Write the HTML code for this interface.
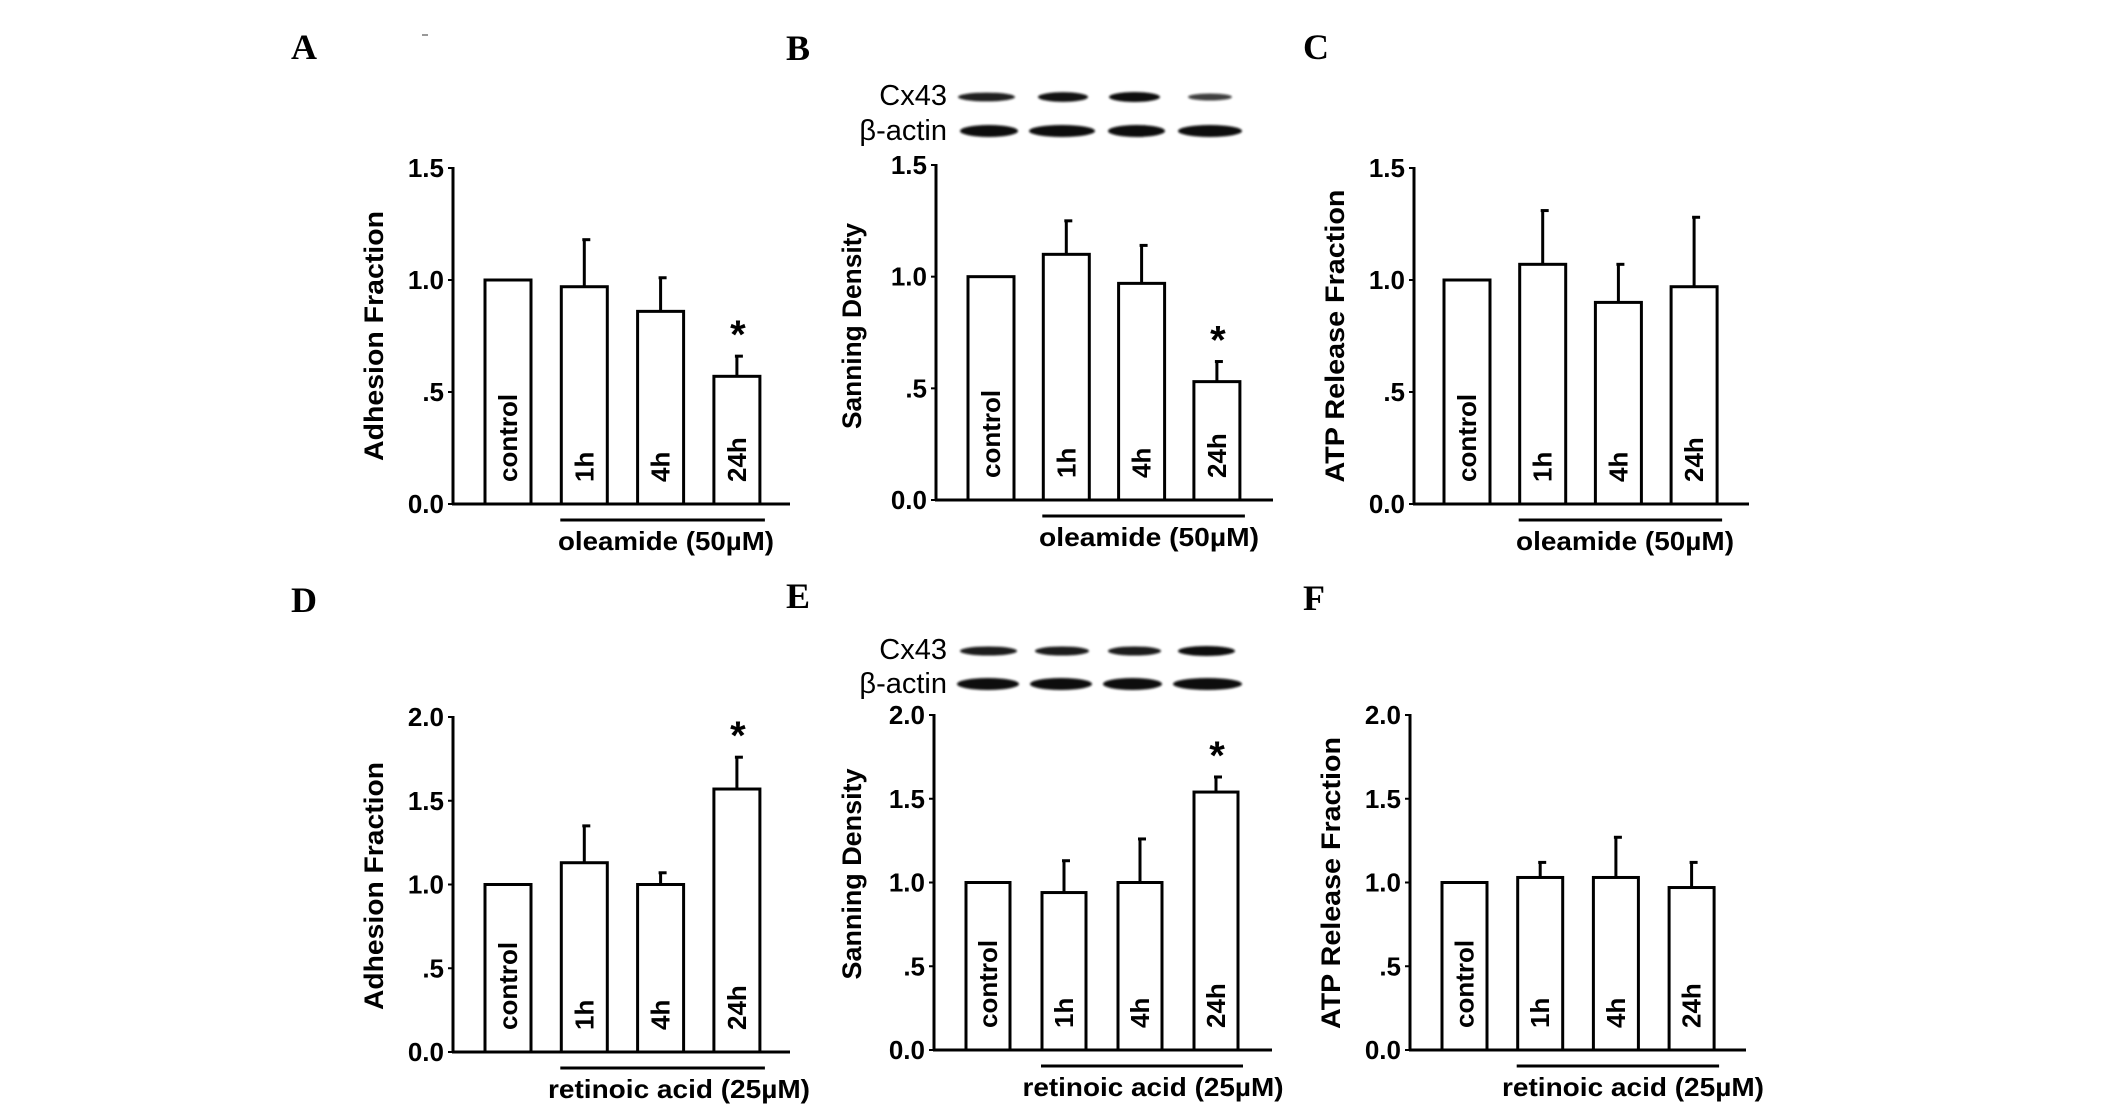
<!DOCTYPE html>
<html><head><meta charset="utf-8"><style>
html,body{margin:0;padding:0;background:#fff;}
svg{display:block;}
text{font-family:"Liberation Sans",sans-serif;font-weight:bold;fill:#000;}
.letter{font-family:"Liberation Serif",serif;font-size:36px;}
.tick{font-size:26px;}
.ytitle{font-size:27px;}
.barlab{font-size:26px;}
.treat{font-size:26px;}
.blotlab{font-weight:normal;font-size:29px;}
</style></head><body>
<svg id="fig" width="2126" height="1111" viewBox="0 0 2126 1111" xmlns="http://www.w3.org/2000/svg">
<defs><filter id="blur" x="-10%" y="-100%" width="120%" height="300%"><feGaussianBlur stdDeviation="1"/></filter></defs>
</svg>
<script>
const categories = ["control","1h","4h","24h"];
const valsA = [1.00,0.97,0.86,0.57];
const semA  = [0,0.21,0.15,0.09];
const sigA  = [0,0,0,1];
const valsB = [1.00,1.10,0.97,0.53];
const semB  = [0,0.15,0.17,0.09];
const sigB  = [0,0,0,1];
const valsC = [1.00,1.07,0.90,0.97];
const semC  = [0,0.24,0.17,0.31];
const sigC  = [0,0,0,0];
const valsD = [1.00,1.13,1.00,1.57];
const semD  = [0,0.22,0.07,0.19];
const sigD  = [0,0,0,1];
const valsE = [1.00,0.94,1.00,1.54];
const semE  = [0,0.19,0.26,0.09];
const sigE  = [0,0,0,1];
const valsF = [1.00,1.03,1.03,0.97];
const semF  = [0,0.09,0.24,0.15];
const sigF  = [0,0,0,0];
const ticksTop = [0,0.5,1.0,1.5];
const tickLabelsTop = ["0.0",".5","1.0","1.5"];
const ticksBottom = [0,0.5,1.0,1.5,2.0];
const tickLabelsBottom = ["0.0",".5","1.0","1.5","2.0"];
const cx43TopIntensity = [0.8,0.95,1.0,0.5];
const cx43BottomIntensity = [0.85,0.85,0.85,1.0];

const NS="http://www.w3.org/2000/svg";
const svg=document.getElementById('fig');
function mk(tag,attrs,parent){const e=document.createElementNS(NS,tag);for(const k in attrs)e.setAttribute(k,attrs[k]);(parent||svg).appendChild(e);return e;}

function panel(p){
  const g=mk('g',{});
  
  
  const ymax=p.ticks[p.ticks.length-1];
  const y=v=>p.y0-(v/ymax)*(p.y0-p.yTop);
  const bx=i=>p.bar0+i*p.step;
  const L=mk('text',{x:p.lx,y:p.ly,'text-anchor':'middle',class:'letter'},g);L.textContent=p.id;
  
  
  const ya=mk('line',{x1:p.ax,y1:y(ymax)-1,x2:p.ax,y2:p.y0,stroke:'#000','stroke-width':3},g);
  
  
  const xa=mk('line',{x1:p.ax-1,y1:p.y0,x2:p.axEnd,y2:p.y0,stroke:'#000','stroke-width':3},g);
  
  
  p.ticks.forEach((t,i)=>{
    const tm=mk('line',{x1:p.ax-5,y1:y(t),x2:p.ax,y2:y(t),stroke:'#000','stroke-width':2},g);
    
    
    const tl=mk('text',{x:p.ax-9,y:y(t)+9,'text-anchor':'end',class:'tick'},g);tl.textContent=p.tickLabels[i];
    
    
  });
  const yt=mk('text',{x:0,y:0,'text-anchor':'middle',class:'ytitle',textLength:p.tLen,lengthAdjust:'spacingAndGlyphs',transform:`translate(${p.tx+10},${p.ty}) rotate(-90)`},g);
  yt.textContent=p.title;
  
  
  categories.forEach((c,i)=>{
    const v=p.vals[i],x=bx(i);
    if(p.sem[i]>0){
      const et=y(v+p.sem[i]);
      const el=mk('line',{x1:x+p.bw/2,y1:y(v),x2:x+p.bw/2,y2:et,stroke:'#000','stroke-width':3},g);
      
      
      const cap=mk('line',{x1:x+p.bw/2-2,y1:et,x2:x+p.bw/2+6,y2:et,stroke:'#000','stroke-width':3},g);
      
      
    }
    const r=mk('rect',{x:x,y:y(v),width:p.bw,height:p.y0-y(v),fill:'#fff',stroke:'#000','stroke-width':3},g);
    
    
    const bl=mk('text',{x:0,y:0,'text-anchor':'start',class:'barlab',transform:`translate(${x+p.bw/2+9},${p.y0-22}) rotate(-90)`},g);
    bl.textContent=c;
    
    
    if(p.sig[i]){
      const s=mk('text',{x:x+p.bw/2+1,y:y(v+p.sem[i])-8,'text-anchor':'middle',style:'font-size:40px'},g);
      s.textContent='*';
      
      
    }
  });
  const ul=mk('line',{x1:bx(1)-1,y1:p.y0+16,x2:bx(3)+p.bw+5,y2:p.y0+16,stroke:'#000','stroke-width':3},g);
  
  
  const tr=mk('text',{x:p.trx,y:p.y0+46,'text-anchor':'middle',class:'treat',textLength:p.trLen,lengthAdjust:'spacingAndGlyphs'},g);
  tr.textContent=p.treat;
  
  
  if(p.blot){
    const b=p.blot;
    const l1=mk('text',{x:947,y:b.cy+8,'text-anchor':'end',class:'blotlab'},g);l1.textContent='Cx43';
    
    
    const l2=mk('text',{x:947,y:b.ay+9,'text-anchor':'end',class:'blotlab'},g);l2.textContent='β-actin';
    
    
    b.cx.forEach((xx,i)=>{
      const k=b.int[i];
      const e=mk('ellipse',{cx:(xx[0]+xx[1])/2,cy:b.cy,rx:(xx[1]-xx[0])/2,ry:2+3*k,fill:'#111','fill-opacity':0.6+0.4*k,filter:'url(#blur)'},g);
      
      
    });
    b.axx.forEach(xx=>{
      const e=mk('ellipse',{cx:(xx[0]+xx[1])/2,cy:b.ay,rx:(xx[1]-xx[0])/2,ry:6,fill:'#0a0a0a',filter:'url(#blur)'},g);
      
      
    });
  }
}
const ole="oleamide (50µM)", ret="retinoic acid (25µM)";
panel({id:'A',lx:304,ly:59,ax:453,axEnd:790,y0:504,yTop:168,ticks:ticksTop,tickLabels:tickLabelsTop,bar0:485,step:76.3,bw:46,vals:valsA,sem:semA,sig:sigA,title:'Adhesion Fraction',tx:373,ty:336,tLen:250,treat:ole,trx:666,trLen:216});
panel({id:'B',lx:798,ly:60,ax:936,axEnd:1273,y0:500,yTop:165,ticks:ticksTop,tickLabels:tickLabelsTop,bar0:968,step:75.3,bw:46,vals:valsB,sem:semB,sig:sigB,title:'Sanning Density',tx:851,ty:326,tLen:206,treat:ole,trx:1149,trLen:220,
  blot:{cy:97,ay:131,int:cx43TopIntensity,cx:[[958,1015],[1038,1088],[1109,1160],[1188,1232]],axx:[[960,1018],[1029,1095],[1108,1165],[1178,1242]]}});
panel({id:'C',lx:1316,ly:59,ax:1414,axEnd:1749,y0:504,yTop:168,ticks:ticksTop,tickLabels:tickLabelsTop,bar0:1444,step:75.7,bw:46,vals:valsC,sem:semC,sig:sigC,title:'ATP Release Fraction',tx:1334,ty:336,tLen:293,treat:ole,trx:1625,trLen:218});
panel({id:'D',lx:304,ly:612,ax:453,axEnd:790,y0:1052,yTop:717,ticks:ticksBottom,tickLabels:tickLabelsBottom,bar0:485,step:76.3,bw:46,vals:valsD,sem:semD,sig:sigD,title:'Adhesion Fraction',tx:373,ty:886,tLen:248,treat:ret,trx:679,trLen:262});
panel({id:'E',lx:798,ly:608,ax:934,axEnd:1272,y0:1050,yTop:715,ticks:ticksBottom,tickLabels:tickLabelsBottom,bar0:966,step:76,bw:44,vals:valsE,sem:semE,sig:sigE,title:'Sanning Density',tx:851,ty:874,tLen:211,treat:ret,trx:1153,trLen:261,
  blot:{cy:651,ay:684,int:cx43BottomIntensity,cx:[[960,1017],[1035,1089],[1108,1161],[1178,1235]],axx:[[957,1019],[1030,1092],[1103,1162],[1173,1242]]}});
panel({id:'F',lx:1314,ly:610,ax:1410,axEnd:1746,y0:1050,yTop:715,ticks:ticksBottom,tickLabels:tickLabelsBottom,bar0:1442,step:75.7,bw:45,vals:valsF,sem:semF,sig:sigF,title:'ATP Release Fraction',tx:1330,ty:883,tLen:292,treat:ret,trx:1633,trLen:262});
const dash=mk('line',{x1:422,y1:35,x2:428,y2:35,stroke:'#999','stroke-width':2});


</script>
</body></html>
